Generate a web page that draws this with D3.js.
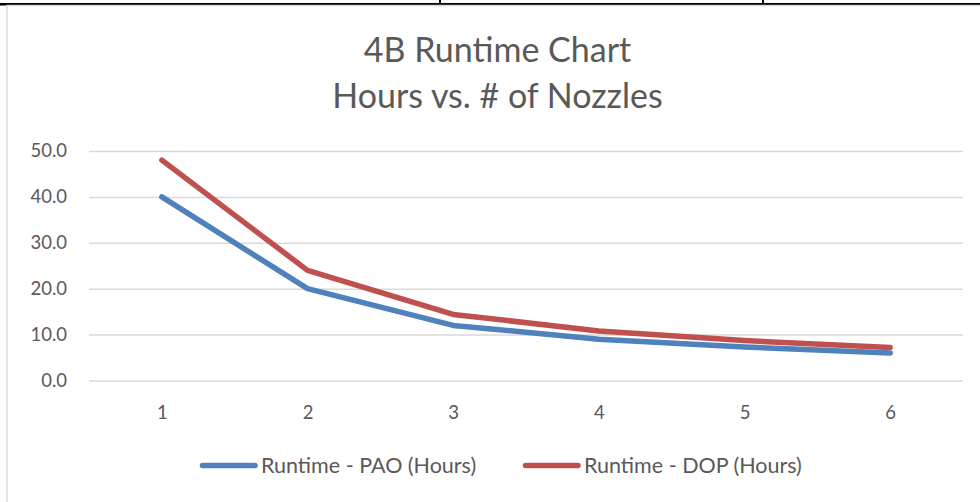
<!DOCTYPE html>
<html><head><meta charset="utf-8">
<script src="https://cdn.jsdelivr.net/npm/d3@7"></script>
<style>html,body{margin:0;padding:0;background:#fff;overflow:hidden}</style>
</head><body>
<svg id="c" width="980" height="502"></svg>
<script>
const categories = ["1","2","3","4","5","6"];
const paoHours = [40.0, 20.0, 12.0, 9.0, 7.3, 6.0];
const dopHours = [48.0, 24.0, 14.4, 10.8, 8.7, 7.2];
const yTicks = [0, 10, 20, 30, 40, 50];
const seriesNames = ["Runtime - PAO (Hours)", "Runtime - DOP (Hours)"];
const seriesColors = ["#4f81bd", "#c0504d"];
const titleLines = ["4B Runtime Chart", "Hours vs. # of Nozzles"];

const svg = d3.select("#c");
const font = "Lato, 'Open Sans', sans-serif";
const textColor = "#595959";

// page decoration (document borders)
svg.append("rect").attr("x",0).attr("y",3).attr("width",980).attr("height",2.5).attr("fill","#000");
[440,763].forEach(x=>svg.append("rect").attr("x",x-1).attr("y",0).attr("width",2).attr("height",4).attr("fill","#000"));
// chart area border
svg.append("rect").attr("x",7).attr("y",5.5).attr("width",1000).attr("height",600)
  .attr("fill","none").attr("stroke","#d9d9d9").attr("stroke-width",1.5);

const x = d3.scalePoint().domain(categories).range([89,963]).padding(0.5);
const y = d3.scaleLinear().domain([0,50]).range([380.5,151]);

// gridlines
const yAxis = d3.axisLeft(y).tickValues(yTicks).tickSize(-(963-89)).tickFormat(d3.format(".1f")).tickPadding(22);
const gy = svg.append("g").attr("transform","translate(89,0)").call(yAxis);
gy.select(".domain").remove();
gy.selectAll(".tick line").attr("stroke","#d9d9d9").attr("stroke-width",1.5);
gy.selectAll(".tick text").attr("fill",textColor).style("font-family",font).style("font-size","18.5px");

const xAxis = d3.axisBottom(x).tickSize(0).tickPadding(25);
const gx = svg.append("g").attr("transform","translate(0,380.5)").call(xAxis);
gx.select(".domain").remove();
gx.selectAll(".tick text").attr("fill",textColor).style("font-family",font).style("font-size","18.5px");

const line = d3.line().x((d,i)=>x(categories[i])).y(d=>y(d));
[paoHours, dopHours].forEach((s,k)=>{
  svg.append("path").datum(s).attr("d",line).attr("fill","none")
    .attr("stroke",seriesColors[k]).attr("stroke-width",5.5)
    .attr("stroke-linecap","round").attr("stroke-linejoin","round");
});

// title
titleLines.forEach((t,i)=>{
  svg.append("text").attr("x",497.5).attr("y",i===0?62:108).attr("text-anchor","middle")
    .attr("fill",textColor).style("font-family",font).style("font-size","34px").text(t);
});

// legend
const legendX = [201, 524];
seriesNames.forEach((n,k)=>{
  const g = svg.append("g");
  g.append("line").attr("x1",legendX[k]+1.5).attr("x2",legendX[k]+54).attr("y1",465.5).attr("y2",465.5)
    .attr("stroke",seriesColors[k]).attr("stroke-width",5.5).attr("stroke-linecap","round");
  g.append("text").attr("x",legendX[k]+60).attr("y",465.5).attr("dy","0.33em")
    .attr("fill",textColor).style("font-family",font).style("font-size","21.5px").text(n);
});
</script>
</body></html>
